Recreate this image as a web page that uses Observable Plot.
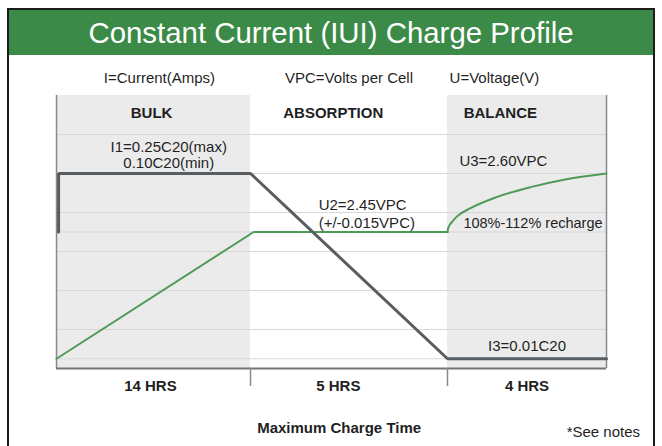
<!DOCTYPE html>
<html>
<head>
<meta charset="utf-8">
<script src="https://cdn.jsdelivr.net/npm/d3@7"></script>
<script src="https://cdn.jsdelivr.net/npm/@observablehq/plot@0.6"></script>
<style>
  html, body { margin: 0; padding: 0; background: #fff; overflow: hidden; }
  body { width: 662px; height: 446px; position: relative; font-family: "Liberation Sans", Arial, Helvetica, sans-serif; }
  #frame { position: absolute; left: 7px; top: 8px; width: 644px; height: 470px; border: 2px solid #1c1c1c; background: #fff; }
  #title { height: 45px; line-height: 45px; background: #3b8a47; color: #fff; text-align: center; font-size: 29.4px; white-space: nowrap; }
  #chart svg { display: block; }
</style>
</head>
<body>
<div id="frame">
  <div id="title">Constant Current (IUI) Charge Profile</div>
  <div id="chart"></div>
</div>
<script>
// ---- data ----
const phaseNames = ["BULK", "ABSORPTION", "BALANCE"];
const phaseStart = [0, 14, 19];
const phaseEnd = [14, 19, 23];
const phaseShaded = [true, false, true];
const phaseHours = ["14 HRS", "5 HRS", "4 HRS"];
const phaseBoundaries = [14, 19];

const gridLevels = [0.25, 1, 2, 3, 3.5, 4, 5, 6];

// current (I) profile
const currentHours = [0.15, 0.15, 14, 19, 23];
const currentLevel = [3.5, 5, 5, 0.25, 0.25];

// voltage (U) profile: bulk ramp + absorption plateau
const voltageHours = [0, 14.08, 19];
const voltageLevel = [0.25, 3.5, 3.5];
// balance recharge curve
const rechargeHours = [19, 19.01, 19.04, 19.1, 19.24, 19.58, 20.25, 21.09, 21.93, 23];
const rechargeLevel = [3.5, 3.57, 3.65, 3.74, 3.9, 4.11, 4.40, 4.65, 4.84, 5.0];

// legend row
const legendTexts = ["I=Current(Amps)", "VPC=Volts per Cell", "U=Voltage(V)"];
const legendHours = [7.43, 16.5, 20.18];

// phase header labels
const phaseLabelHours = [6.86, 16.1, 20.33];
const phaseLabelLevel = 6.54;

// annotations (centered)
const noteTexts = ["I1=0.25C20(max)", "0.10C20(min)", "I3=0.01C20"];
const noteHours = [8.1, 8.1, 21.0];
const noteLevel = [5.67, 5.26, 0.56];
// annotations (left aligned)
const leftNoteTexts = ["U2=2.45VPC", "(+/-0.015VPC)", "U3=2.60VPC", "108%-112% recharge"];
const leftNoteHours = [15.73, 15.73, 19.3, 19.4];
const leftNoteLevel = [4.18, 3.73, 5.31, 3.71];

// bottom labels
const durationHours = [6.78, 16.23, 21.0];
const axisTitle = "Maximum Charge Time";
const axisTitleHour = 16.25;
const footnote = "*See notes";
const footnoteHour = 22.92;

// ---- build tables ----
const phases = phaseNames.map((name, i) => ({name, start: phaseStart[i], end: phaseEnd[i], shaded: phaseShaded[i], hours: phaseHours[i], labelX: phaseLabelHours[i], durX: durationHours[i]}));
const current = currentHours.map((h, i) => ({h, v: currentLevel[i]}));
const voltage = voltageHours.map((h, i) => ({h, v: voltageLevel[i]}));
const recharge = rechargeHours.map((h, i) => ({h, v: rechargeLevel[i]}));
const legend = legendTexts.map((t, i) => ({t, h: legendHours[i]}));
const notes = noteTexts.map((t, i) => ({t, h: noteHours[i], v: noteLevel[i]}));
const leftNotes = leftNoteTexts.map((t, i) => ({t, h: leftNoteHours[i], v: leftNoteLevel[i]}));

const FONT = '"Liberation Sans", Arial, Helvetica, sans-serif';
const INK = "#1f1f1f";

const chart = Plot.plot({
  width: 644,
  height: 391,
  marginLeft: 47,
  marginRight: 47,
  marginTop: 40,
  marginBottom: 78,
  x: {type: "linear", domain: [0, 14, 19, 23], range: [47, 241, 438, 597]},
  y: {domain: [0, 7], axis: null},
  style: {fontFamily: FONT, fontSize: "15px", background: "#fff", overflow: "visible", color: INK},
  marks: [
    Plot.rect(phases.filter(d => d.shaded), {x1: "start", x2: "end", y1: 0, y2: 7, fill: "#ebebeb"}),
    Plot.ruleY(gridLevels, {stroke: "#d7d7d7", strokeWidth: 1}),
    Plot.ruleX([0, 23], {stroke: "#85898c", strokeWidth: 1.5}),
    Plot.ruleY([0], {stroke: "#707478", strokeWidth: 2}),
    Plot.axisX({ticks: phaseBoundaries, tickSize: 18, tickFormat: () => "", stroke: "#8a8a8a", strokeWidth: 1.5}),
    Plot.line(voltage, {x: "h", y: "v", stroke: "#4f9a56", strokeWidth: 2, strokeLinejoin: "miter"}),
    Plot.line(recharge, {x: "h", y: "v", stroke: "#4f9a56", strokeWidth: 2, curve: "monotone-x"}),
    Plot.line(current, {x: "h", y: "v", stroke: "#585d61", strokeWidth: 3, strokeLinejoin: "miter"}),
    Plot.text(legend, {x: "h", y: 7, dy: -17, text: "t", fontSize: 15, fill: INK}),
    Plot.text(phases, {x: "labelX", y: phaseLabelLevel, text: "name", fontSize: 15, fontWeight: "bold", fill: INK}),
    Plot.text(notes, {x: "h", y: "v", text: "t", fontSize: 15, fill: INK}),
    Plot.text(leftNotes.slice(0, 3), {x: "h", y: "v", text: "t", fontSize: 15, textAnchor: "start", fill: INK}),
    Plot.text(leftNotes.slice(3), {x: "h", y: "v", text: "t", fontSize: 14.5, textAnchor: "start", fill: INK}),
    Plot.text(phases, {x: "durX", y: 0, dy: 18, text: "hours", fontSize: 15, fontWeight: "bold", fill: INK}),
    Plot.text([axisTitle], {x: axisTitleHour, y: 0, dy: 60, text: d => d, fontSize: 15, fontWeight: "bold", fill: INK}),
    Plot.text([footnote], {x: footnoteHour, y: 0, dy: 64, text: d => d, fontSize: 15, fill: INK})
  ]
});
document.getElementById("chart").appendChild(chart);
</script>
</body>
</html>
